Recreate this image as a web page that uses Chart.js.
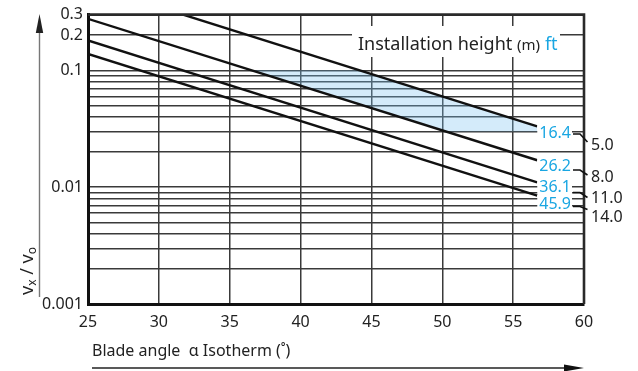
<!DOCTYPE html>
<html>
<head>
<meta charset="utf-8">
<script src="https://cdn.jsdelivr.net/npm/chart.js@4/dist/chart.umd.min.js"></script>
<style>
  html,body{margin:0;padding:0;background:#fff;}
  #c{display:block;}
</style>
</head>
<body>
<canvas id="c" width="638" height="371"></canvas>
<script>
// ---- data ----
const heightsFt = ['16.4', '26.2', '36.1', '45.9'];
const heightsM  = ['5.0', '8.0', '11.0', '14.0'];
const lineStartX = [31.7, 25, 25, 25];
const lineStartY = [0.3, 0.276, 0.18, 0.138];
const lineEndX   = [56.7, 56.7, 56.7, 56.7];
const lineEndY   = [0.0332, 0.0170, 0.0110, 0.00848];
// shaded zone (between 5.0 m and 8.0 m lines, 0.03 .. 0.1)
const shadeX = [36.5, 44.2, 56.7, 56.7, 50.2, 36.5];
const shadeY = [0.1, 0.1, 0.0332, 0.03, 0.03, 0.1];
const xTicks = [25, 30, 35, 40, 45, 50, 55, 60];
const yTicks = [0.001,0.002,0.003,0.004,0.005,0.006,0.007,0.008,0.009,
                0.01,0.02,0.03,0.04,0.05,0.06,0.07,0.08,0.09,
                0.1,0.2,0.3];
const yLabeled = [0.001, 0.01, 0.1, 0.2, 0.3];
const xTitle = 'Blade angle  α Isotherm (˚)';
const legendTitle = 'Installation height';

const FONT = "'Noto Sans', 'Open Sans', sans-serif";
const BLUE = '#19a6e2';
Chart.defaults.font.family = FONT;
Chart.defaults.color = '#222';

const datasets = [];
datasets.push({
  data: shadeX.map((x, i) => ({x, y: shadeY[i]})),
  showLine: true, fill: 'shape', borderWidth: 0, borderColor: 'rgba(0,0,0,0)',
  backgroundColor: 'rgba(120,192,238,0.32)', pointRadius: 0, order: 5
});
for (let i = 0; i < heightsFt.length; i++) {
  datasets.push({
    data: [{x: lineStartX[i], y: lineStartY[i]}, {x: lineEndX[i], y: lineEndY[i]}],
    showLine: true, fill: false, borderColor: '#111', borderWidth: 2.4,
    pointRadius: 0, order: 1
  });
}

const deco = {
  id: 'deco',
  afterDatasetsDraw(chart) {
    const ctx = chart.ctx, a = chart.chartArea;
    ctx.save();
    // top / right frame
    ctx.strokeStyle = '#2a2a2a';
    ctx.lineWidth = 2.6;
    ctx.beginPath();
    ctx.moveTo(a.left, a.top); ctx.lineTo(a.right, a.top); ctx.lineTo(a.right, a.bottom);
    ctx.stroke();

    // legend title box
    ctx.fillStyle = '#fff';
    ctx.fillRect(352, 26, 208, 31);
    ctx.textBaseline = 'alphabetic';
    ctx.textAlign = 'left';
    let x = 358;
    ctx.font = '18px ' + FONT; ctx.fillStyle = '#222';
    ctx.fillText(legendTitle + ' ', x, 50);
    x += ctx.measureText(legendTitle + ' ').width;
    ctx.font = '15px ' + FONT;
    ctx.fillText('(m)', x, 50);
    x += ctx.measureText('(m) ').width + 1;
    ctx.font = '18px ' + FONT; ctx.fillStyle = BLUE;
    ctx.fillText('ft', x, 50);

    // end labels
    const blueY = [132, 165, 186, 203];
    const dashY = [134, 170, 192.5, 206.5];
    const endY  = [142, 175, 197.5, 209.5];
    const mY    = [144, 176, 197, 216];
    ctx.textBaseline = 'middle';
    for (let i = 0; i < heightsFt.length; i++) {
      ctx.font = '16px ' + FONT;
      const w = ctx.measureText(heightsFt[i]).width;
      ctx.fillStyle = '#fff';
      ctx.fillRect(571 - w - 2, blueY[i] - 8, w + 3, 16);
      ctx.fillStyle = BLUE;
      ctx.textAlign = 'right';
      ctx.fillText(heightsFt[i], 571, blueY[i] + 1);
      ctx.strokeStyle = '#111'; ctx.lineWidth = 1.6;
      ctx.beginPath();
      ctx.moveTo(573, dashY[i]); ctx.lineTo(580, dashY[i]); ctx.lineTo(587.5, endY[i]);
      ctx.stroke();
      ctx.font = '16px ' + FONT; ctx.fillStyle = '#222'; ctx.textAlign = 'left';
      ctx.fillText(heightsM[i], 591, mY[i] + 1);
    }

    // x axis title and arrow
    ctx.font = '16px ' + FONT; ctx.fillStyle = '#222';
    ctx.textAlign = 'left'; ctx.textBaseline = 'middle';
    ctx.fillText(xTitle, 92, 351);
    ctx.strokeStyle = '#222'; ctx.lineWidth = 1.3;
    ctx.beginPath(); ctx.moveTo(92, 368); ctx.lineTo(570, 368); ctx.stroke();
    ctx.fillStyle = '#111';
    ctx.beginPath(); ctx.moveTo(584, 368); ctx.lineTo(564, 364.5); ctx.lineTo(564, 371.5); ctx.closePath(); ctx.fill();

    // y axis arrow
    ctx.strokeStyle = '#777'; ctx.lineWidth = 1.4;
    ctx.beginPath(); ctx.moveTo(39.5, 30); ctx.lineTo(39.5, 297); ctx.stroke();
    ctx.fillStyle = '#222';
    ctx.beginPath(); ctx.moveTo(39.5, 14); ctx.lineTo(35.8, 33); ctx.lineTo(43.2, 33); ctx.closePath(); ctx.fill();

    // y title  v_x / v_o (rotated)
    ctx.translate(33, 271);
    ctx.rotate(-Math.PI / 2);
    ctx.textBaseline = 'alphabetic';
    const parts = [['v', 18, 0], ['x', 12, 3], [' / v', 18, 0], ['o', 12, 3]];
    let tw = 0;
    parts.forEach(p => { ctx.font = p[1] + 'px ' + FONT; tw += ctx.measureText(p[0]).width; });
    let tx = -tw / 2;
    ctx.fillStyle = '#222';
    parts.forEach(p => {
      ctx.font = p[1] + 'px ' + FONT;
      ctx.fillText(p[0], tx, p[2]);
      tx += ctx.measureText(p[0]).width;
    });
    ctx.restore();
  }
};

new Chart(document.getElementById('c'), {
  type: 'scatter',
  data: { datasets },
  options: {
    responsive: false,
    animation: false,
    devicePixelRatio: 1,
    layout: { padding: { top: 14, right: 54, left: 0, bottom: 0 } },
    plugins: { legend: { display: false }, tooltip: { enabled: false } },
    scales: {
      x: {
        type: 'linear', min: 25, max: 60,
        afterFit(s) { s.height = 67; },
        afterBuildTicks(s) { s.ticks = xTicks.map(v => ({ value: v })); },
        grid: { color: '#3a3a3a', lineWidth: 1.5, drawTicks: false },
        border: { display: true, color: '#111', width: 3 },
        ticks: { autoSkip: false, maxRotation: 0, padding: 9, color: '#222',
                 font: { size: 16 } }
      },
      y: {
        type: 'logarithmic', min: 0.001, max: 0.3,
        afterFit(s) { s.width = 88; },
        afterBuildTicks(s) { s.ticks = yTicks.map(v => ({ value: v })); },
        grid: { color: '#3a3a3a', lineWidth: 1.5, drawTicks: false },
        border: { display: true, color: '#111', width: 3 },
        ticks: { autoSkip: false, padding: 5, color: '#222', font: { size: 16 },
                 callback: (v) => yLabeled.includes(v) ? String(v) : '' }
      }
    }
  },
  plugins: [deco]
});
</script>
</body>
</html>
